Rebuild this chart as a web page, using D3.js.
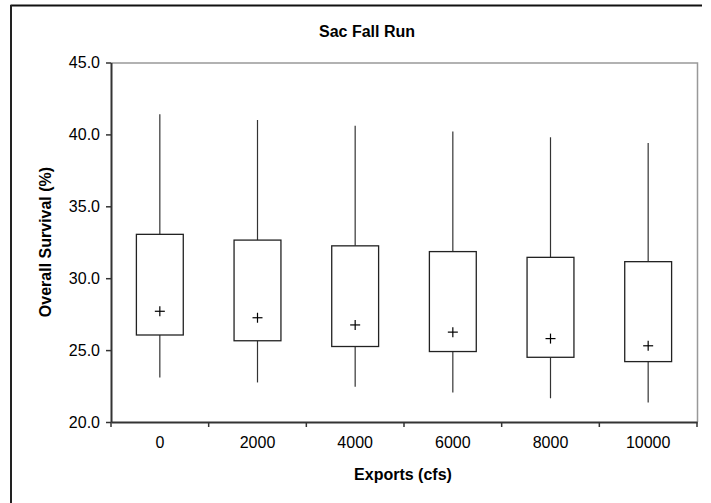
<!DOCTYPE html>
<html>
<head>
<meta charset="utf-8">
<script src="https://cdn.jsdelivr.net/npm/d3@7"></script>
<style>
  html, body { margin: 0; padding: 0; background: #fff; }
  svg { display: block; }
  text { font-family: Arial, "Liberation Sans", sans-serif; fill: #000; }
</style>
</head>
<body>
<svg id="chart" width="711" height="503"></svg>
<script>
const categories = ["0", "2000", "4000", "6000", "8000", "10000"];
const whiskerHigh = [41.4, 41.0, 40.6, 40.2, 39.8, 39.4];
const q3 = [33.05, 32.65, 32.25, 31.85, 31.45, 31.15];
const mean = [27.7, 27.25, 26.75, 26.25, 25.8, 25.3];
const q1 = [26.05, 25.65, 25.25, 24.9, 24.5, 24.2];
const whiskerLow = [23.1, 22.75, 22.45, 22.05, 21.65, 21.35];
const yTicks = [20, 25, 30, 35, 40, 45];
const chartTitle = "Sac Fall Run";
const xTitle = "Exports (cfs)";
const yTitle = "Overall Survival (%)";

const data = categories.map((c, i) => ({
  cat: c, hi: whiskerHigh[i], q3: q3[i], mean: mean[i], q1: q1[i], lo: whiskerLow[i]
}));

const FONT = "Arial, 'Liberation Sans', sans-serif";
const svg = d3.select("#chart");
const pLeft = 111, pRight = 697, pTop = 62.5, pBottom = 422;

// outer frame
svg.append("line").attr("x1", 10.5).attr("x2", 702).attr("y1", 5.5).attr("y2", 5.5)
  .attr("stroke", "#111").attr("stroke-width", 2);
svg.append("line").attr("x1", 11).attr("x2", 11).attr("y1", 5).attr("y2", 503)
  .attr("stroke", "#222").attr("stroke-width", 2);

const x = d3.scaleBand().domain(categories).range([pLeft, pRight]).padding(0);
const y = d3.scaleLinear().domain([20, 45]).range([pBottom, pTop]);

// plot area top/right border
svg.append("path")
  .attr("d", `M${pLeft},${pTop + 0.5}H${pRight + 0.5}V${pBottom}`)
  .attr("fill", "none").attr("stroke", "#999").attr("stroke-width", 1.5);

// y axis
const yAxis = svg.append("g").attr("transform", `translate(${pLeft},0)`)
  .call(d3.axisLeft(y).tickValues(yTicks).tickFormat(d3.format(".1f")).tickSizeOuter(0).tickSizeInner(5).tickPadding(6));
yAxis.attr("font-size", 16).attr("font-family", FONT);
yAxis.select(".domain").attr("stroke", "#333").attr("stroke-width", 2);
yAxis.selectAll(".tick line").attr("stroke", "#333").attr("stroke-width", 1.5);
yAxis.selectAll("text").attr("font-size", 16).style("font-size", "16px").attr("fill", "#000");

// x axis: ticks at category boundaries
const xAxis = svg.append("g").attr("transform", `translate(0,${pBottom})`)
  .call(d3.axisBottom(x).tickSize(0).tickPadding(15));
xAxis.attr("font-size", 16).attr("font-family", FONT);
xAxis.select(".domain").attr("stroke", "#333").attr("stroke-width", 2);
xAxis.selectAll("text").attr("font-size", 16).style("font-size", "16px").attr("fill", "#000");
const bounds = categories.map(c => x(c)).concat([x(categories[categories.length - 1]) + x.bandwidth()]);
xAxis.selectAll(".bound").data(bounds).enter().append("line")
  .attr("x1", d => d).attr("x2", d => d).attr("y1", 0).attr("y2", 5)
  .attr("stroke", "#333").attr("stroke-width", 1.5);

// boxes
const bw = x.bandwidth() * 0.48;
const g = svg.append("g");
const cx = d => x(d.cat) + x.bandwidth() / 2;
g.selectAll(".wh").data(data).enter().append("line")
  .attr("x1", cx).attr("x2", cx).attr("y1", d => y(d.hi)).attr("y2", d => y(d.q3))
  .attr("stroke", "#333").attr("stroke-width", 1.2);
g.selectAll(".wl").data(data).enter().append("line")
  .attr("x1", cx).attr("x2", cx).attr("y1", d => y(d.q1)).attr("y2", d => y(d.lo))
  .attr("stroke", "#333").attr("stroke-width", 1.2);
g.selectAll(".box").data(data).enter().append("rect")
  .attr("x", d => cx(d) - bw / 2).attr("width", bw)
  .attr("y", d => y(d.q3)).attr("height", d => y(d.q1) - y(d.q3))
  .attr("fill", "#fff").attr("stroke", "#222").attr("stroke-width", 1.3);
g.selectAll(".mh").data(data).enter().append("line")
  .attr("x1", d => cx(d) - 5).attr("x2", d => cx(d) + 5)
  .attr("y1", d => y(d.mean)).attr("y2", d => y(d.mean))
  .attr("stroke", "#000").attr("stroke-width", 1.2);
g.selectAll(".mv").data(data).enter().append("line")
  .attr("x1", cx).attr("x2", cx)
  .attr("y1", d => y(d.mean) - 5).attr("y2", d => y(d.mean) + 5)
  .attr("stroke", "#000").attr("stroke-width", 1.2);

// titles
svg.append("text").attr("x", 367).attr("y", 37).attr("text-anchor", "middle")
  .style("font-size", "16px").style("font-weight", "bold").text(chartTitle);
svg.append("text").attr("x", 403).attr("y", 480).attr("text-anchor", "middle")
  .style("font-size", "16px").style("font-weight", "bold").text(xTitle);
svg.append("text").attr("transform", "translate(51,242) rotate(-90)").attr("text-anchor", "middle")
  .style("font-size", "16px").style("font-weight", "bold").text(yTitle);
</script>
</body>
</html>
